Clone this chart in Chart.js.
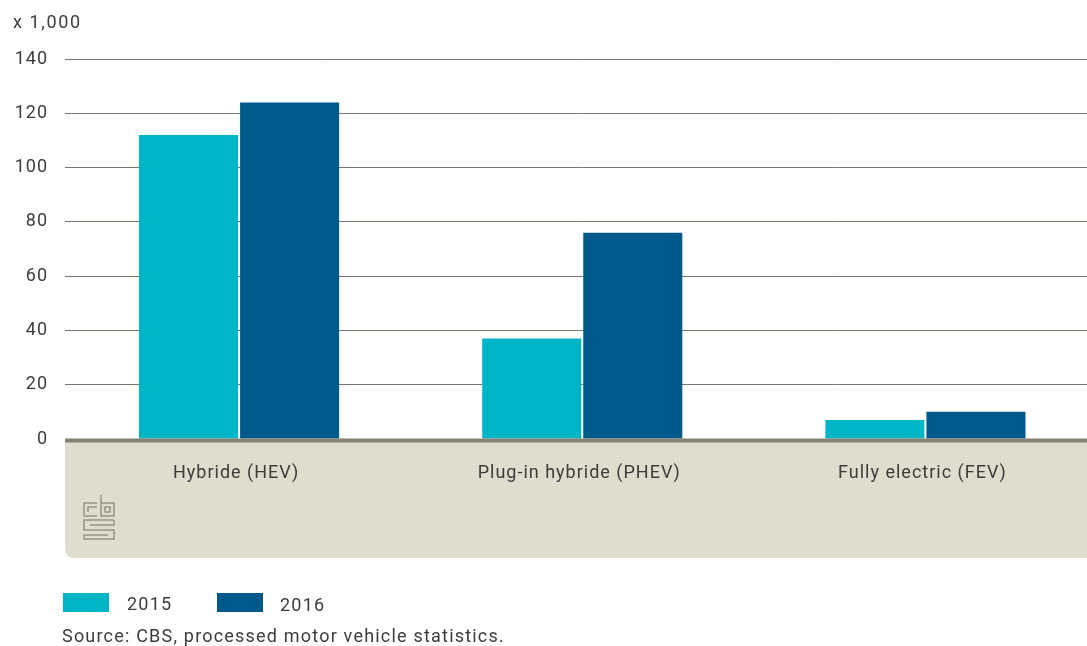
<!DOCTYPE html>
<html><head><meta charset="utf-8">
<script src="https://cdn.jsdelivr.net/npm/chart.js@4"></script>
<style>html,body{margin:0;padding:0;background:#fff;overflow:hidden;width:1087px;height:646px}
#w{position:absolute;left:0;top:0;width:1087px;height:646px;overflow:hidden}
canvas{position:absolute;left:0;top:0}
.t{position:absolute;font:18px Roboto,sans-serif;letter-spacing:1.2px;color:#3c3c3c;white-space:nowrap;line-height:22px}
.k{position:absolute;height:19px;width:46px}
</style></head><body>
<div id="w"><canvas id="c" width="1097" height="646"></canvas>
<div class="t" style="left:13px;top:11px;letter-spacing:1.6px">x 1,000</div>
<div class="k" style="left:63px;top:593px;background:#00b5c6"></div>
<div class="t" style="left:127px;top:593px">2015</div>
<div class="k" style="left:217px;top:593px;background:#00598b"></div>
<div class="t" style="left:280px;top:594px">2016</div>
<div class="t" style="left:62px;top:625px">Source: CBS, processed motor vehicle statistics.</div>
</div>
<script>
const categories=["Hybride (HEV)","Plug-in hybride (PHEV)","Fully electric (FEV)"];
const values2015=[112,37,7];
const values2016=[124,76,10];
const tickValues=[0,20,40,60,80,100,120,140];
const band={id:'band',
 beforeDraw(ch){const c=ch.ctx;c.letterSpacing='1px';c.save();c.fillStyle='#dfddce';
  c.beginPath();c.moveTo(65,440);c.lineTo(1100,440);c.lineTo(1100,558);c.lineTo(75,558);c.quadraticCurveTo(65,558,65,548);c.closePath();c.fill();
  // CBS logo
  c.strokeStyle='#96958a';c.lineWidth=1.5;c.beginPath();
  c.moveTo(97,503);c.lineTo(84,503);c.lineTo(84,516);c.lineTo(97,516);      // c
  c.moveTo(88,512);c.lineTo(88,507);c.lineTo(97,507);
  c.moveTo(101,495);c.lineTo(101,516);c.lineTo(114,516);c.lineTo(114,503);c.lineTo(101,503); // b
  c.rect(105,507,5,5);
  c.moveTo(114,520);c.lineTo(84,520);c.lineTo(84,530);c.lineTo(114,530);c.lineTo(114,539);c.lineTo(84,539);c.lineTo(84,535);c.lineTo(108,535); // s
  c.moveTo(114,520);c.lineTo(114,525);c.lineTo(90,525);
  c.stroke();c.restore();},
 afterDatasetsDraw(ch){const c=ch.ctx;c.save();c.fillStyle='#858272';c.fillRect(65,438.5,1040,4);c.restore();}};
new Chart(document.getElementById('c'),{type:'bar',plugins:[band],
 data:{labels:categories,datasets:[
  {label:'2015',data:values2015,backgroundColor:'#00b5c6',barPercentage:.98,categoryPercentage:.589},
  {label:'2016',data:values2016,backgroundColor:'#00598b',barPercentage:.98,categoryPercentage:.589}]},
 options:{responsive:false,animation:false,
  layout:{padding:{left:0,right:0,top:59,bottom:0}},
  plugins:{legend:{display:false},tooltip:{enabled:false}},
  scales:{
   x:{position:'bottom',grid:{display:false},border:{display:false},
      afterFit(s){s.height=207;},
      ticks:{color:'#3c3c3c',font:{family:'Roboto',size:18},padding:16,labelOffset:-3,maxRotation:0}},
   y:{min:0,max:140,afterBuildTicks(s){s.ticks=tickValues.map(v=>({value:v}));},
      afterFit(s){s.width=67.5;},
      grid:{color:'#77776c',lineWidth:1,drawTicks:true,tickLength:2.5},border:{display:false},
      ticks:{color:'#3c3c3c',font:{family:'Roboto',size:18},padding:17}}
  }}});
</script></body></html>
